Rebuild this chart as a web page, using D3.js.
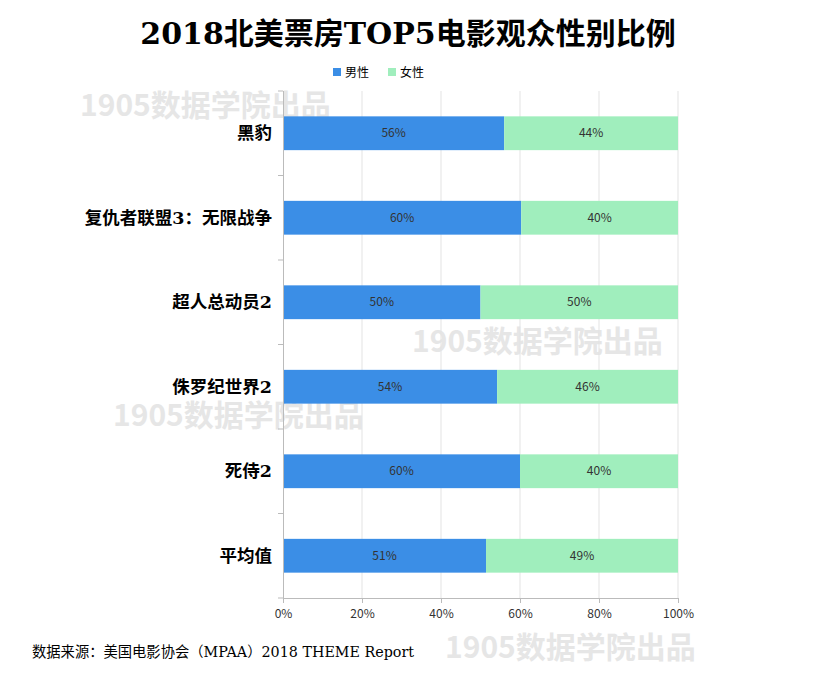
<!DOCTYPE html>
<html><head><meta charset="utf-8">
<script src="https://cdn.jsdelivr.net/npm/d3@7"></script>
<style>body{margin:0;background:#fff}</style>
</head><body><svg id="c" width="815" height="680"></svg>
<script>
const categories = ["黑豹","复仇者联盟3：无限战争","超人总动员2","侏罗纪世界2","死侍2","平均值"];
const male = [56, 60.3, 50, 54.2, 60, 51.4];
const female = [44, 39.7, 50, 45.8, 40, 48.6];
const seriesNames = ["男性","女性"];
const colors = ["#3b8ee6","#a0eebd"];
const ticks = [0,20,40,60,80,100];

const svg = d3.select("#c");
const serif = "'DejaVu Serif','Liberation Serif','Noto Sans CJK SC',serif";
const sans = "'Noto Sans CJK SC','Noto Sans',sans-serif";

// watermarks
[[80,116],[412,352],[113,426],[445,658]].forEach(([x,y]) =>
  svg.append("text").attr("x",x).attr("y",y).text("1905数据学院出品")
    .attr("font-family",sans).attr("font-weight","bold").attr("font-size",30)
    .attr("fill","#e6e6e6"));

const x = d3.scaleLinear().domain([0,100]).range([283,678]);
const y = d3.scaleBand().domain(categories).range([91,598]).paddingInner(0.6).paddingOuter(0.3);

svg.append("g").selectAll("line").data(ticks.slice(1)).join("line")
  .attr("x1",d=>x(d)).attr("x2",d=>x(d)).attr("y1",91).attr("y2",598)
  .attr("stroke","#e3e3e3");

const rows = categories.map((c,i)=>({c, v:[male[i],female[i]]}));
rows.forEach(r=>{
  let acc=0;
  r.v.forEach((v,j)=>{
    svg.append("rect").attr("x",x(acc)).attr("y",y(r.c)).attr("width",x(acc+v)-x(acc))
      .attr("height",y.bandwidth()).attr("fill",colors[j]);
    svg.append("text").attr("x",(x(acc)+x(acc+v))/2).attr("y",y(r.c)+y.bandwidth()/2)
      .attr("dy","0.35em").attr("text-anchor","middle").attr("font-family",sans)
      .attr("font-size",12).attr("fill","#333").text(d3.format(".0f")(v)+"%");
    acc+=v;
  });
});

// left axis
svg.append("line").attr("x1",283.5).attr("x2",283.5).attr("y1",91).attr("y2",598).attr("stroke","#bbb");
d3.range(categories.length+1).forEach(i=>{
  const yy = 91+ (598-91)*i/categories.length;
  svg.append("line").attr("x1",278).attr("x2",283).attr("y1",yy).attr("y2",yy).attr("stroke","#bbb");
});
svg.append("g").selectAll("text").data(categories).join("text")
  .attr("x",272).attr("y",d=>y(d)+y.bandwidth()/2).attr("dy","0.35em")
  .attr("text-anchor","end").attr("font-family",serif).attr("font-weight","bold")
  .attr("font-size",17.5).text(d=>d);

const xa = svg.append("g").attr("transform","translate(0,598)")
  .call(d3.axisBottom(x).tickValues(ticks).tickFormat(d=>d+"%").tickSize(5));
xa.select(".domain").attr("stroke","#bbb");
xa.selectAll(".tick line").attr("stroke","#bbb");
xa.selectAll("text").attr("font-family",sans).attr("font-size",12).attr("fill","#333").attr("dy","1em");

svg.append("text").attr("x",408).attr("y",44).attr("text-anchor","middle")
  .attr("font-family",serif).attr("font-weight","bold").attr("font-size",30)
  .text("2018北美票房TOP5电影观众性别比例");

seriesNames.forEach((s,i)=>{
  const lx = 333 + i*55;
  svg.append("rect").attr("x",lx).attr("y",68).attr("width",8).attr("height",8).attr("fill",colors[i]);
  svg.append("text").attr("x",lx+12).attr("y",77).attr("font-family",sans).attr("font-size",12).text(s);
});

svg.append("text").attr("x",32).attr("y",657).attr("font-family",serif).attr("font-size",14.3)
  .text("数据来源：美国电影协会（MPAA）2018 THEME Report");
</script></body></html>
